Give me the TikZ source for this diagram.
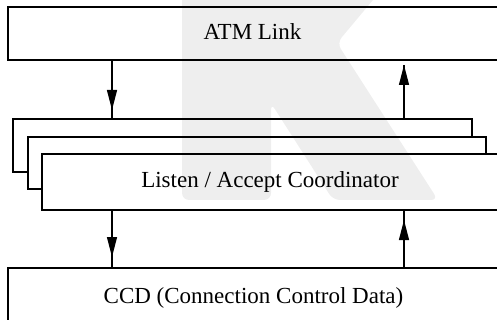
\documentclass[tikz,border=0pt]{standalone}
\usepackage{fontspec}
\setmainfont{Liberation Serif}
\usetikzlibrary{arrows.meta,decorations.markings}
\definecolor{markgray}{RGB}{238,238,238}
\begin{document}
\begin{tikzpicture}[x=1pt,y=-1pt,
  frame/.style={draw=black,line width=1.6pt},
  slot/.style={inner sep=0pt,outer sep=0pt,anchor=north west},
  caption/.style={font=\fontsize{23}{23}\selectfont,anchor=base,inner sep=0pt},
  flow/.style={line width=1.2pt},
  head/.style={postaction={decorate},decoration={markings,
    mark=at position #1 with {\arrow{Triangle[length=20pt,width=10pt]}}}}]
\useasboundingbox (0,0) rectangle (497,320);
\clip (0,0) rectangle (497,320);

% faint "K" logo in the background
\fill[markgray,rounded corners=7pt]
  (182,-12) -- (383,-12) -- (337,43) -- (438,200) -- (333,200)
  -- (271,103) -- (271,200) -- (182,200) -- cycle;

% layer boxes
\node[slot,minimum width=510pt,minimum height=53pt] (atm) at (8,7) {};
\node[slot,minimum width=459pt,minimum height=53pt] (lacA) at (13,119) {};
\node[slot,minimum width=458pt,minimum height=52pt] (lacB) at (28,137) {};
\node[slot,minimum width=470pt,minimum height=56pt] (lacC) at (42,154) {};
\node[slot,minimum width=510pt,minimum height=80pt] (ccd) at (8,268) {};

\draw[frame] (atm.south east) -- (atm.south west) -- (atm.north west) -- (atm.north east);
\draw[frame] (lacA.south west -| lacB.west) -- (lacA.south west) -- (lacA.north west)
  -- (lacA.north east) -- (lacA.east |- lacB.north);
\draw[frame] (lacB.south west -| lacC.west) -- (lacB.south west) -- (lacB.north west)
  -- (lacB.north east) -- (lacB.east |- lacC.north);
\draw[frame] (lacC.south east) -- (lacC.south west) -- (lacC.north west) -- (lacC.north east);
\draw[frame] (ccd.north east) -- (ccd.north west) -- (ccd.south west);

% captions
\node[caption] (atmtext) at (252.5,40) {ATM Link};
\node[caption] (lactext) at (270,188) {Listen / Accept Coordinator};
\node[caption] (ccdtext) at (253.5,303) {CCD (Connection Control Data)};

% columns of the connectors
\coordinate (dn) at (112,0);
\coordinate (up) at (404,0);

\draw[flow,head=-9pt] (atm.south -| dn) -- (lacA.north -| dn);
\draw[flow,head=1] (lacA.north -| up) -- ([yshift=-5pt]atm.south -| up);
\draw[flow,head=-11pt] (lacC.south -| dn) -- (ccd.north -| dn);
\draw[flow,head=-10pt] (ccd.north -| up) -- (lacC.south -| up);
\end{tikzpicture}
\end{document}
